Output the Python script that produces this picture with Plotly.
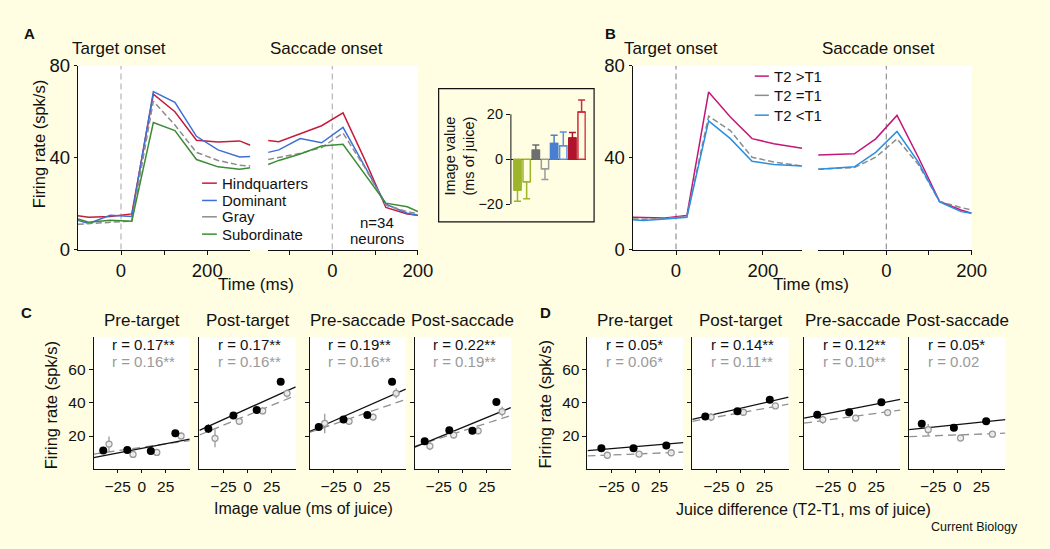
import plotly.graph_objects as go
import numpy as np

W, H = 1050, 549
def fx(p): return p / W
def fy(p): return 1 - p / H

BG = "#FFFDE2"
INK = "#111111"
FONT = "Liberation Sans, Arial, Helvetica, sans-serif"

# ---------------- Panel A data ----------------
tA_left = [-100, -75, -25, 25, 75, 125, 175, 225, 275, 300]
tA_right = [-150, -125, -75, -25, 25, 75, 125, 175, 200]
hind_L = [14.7, 14.1, 14.4, 15.5, 67.7, 60.0, 47.6, 46.8, 47.3, 45.4]
dom_L = [12.7, 11.3, 14.9, 14.4, 68.8, 64.1, 49.3, 43.4, 40.3, 40.5]
gray_L = [11.0, 11.3, 11.9, 12.4, 64.6, 54.2, 42.3, 38.8, 36.7, 36.4]
sub_L = [13.3, 11.9, 12.7, 12.3, 55.3, 51.8, 39.2, 36.0, 35.0, 35.6]
hind_R = [47.5, 46.9, 50.4, 53.9, 59.5, 39.5, 18.3, 15.5, 14.9]
dom_R = [42.3, 43.4, 48.3, 46.5, 53.2, 36.7, 19.7, 15.8, 14.8]
gray_R = [39.2, 40.2, 41.9, 44.4, 50.7, 36.0, 19.3, 16.5, 15.5]
sub_R = [37.0, 38.8, 41.6, 45.1, 45.8, 33.2, 20.2, 18.6, 16.5]
A_names = ["Hindquarters", "Dominant", "Gray", "Subordinate"]

# ---------------- Inset data ----------------
inset_vals = [-13.7, -10.0, 4.0, -4.3, 7.0, 6.0, 9.4, 21.0]
inset_err = [5.0, 7.6, 2.3, 4.8, 3.7, 6.1, 2.5, 5.4]
inset_filled = [True, False, True, False, True, False, True, False]

# ---------------- Panel B data ----------------
tB_left = [-100, -75, -25, 25, 75, 125, 175, 225, 290]
tB_right = [-160, -75, -25, 25, 75, 125, 175, 200]
mag_L = [14.0, 13.9, 13.7, 14.8, 68.6, 57.7, 48.3, 46.1, 44.1]
grayB_L = [13.3, 13.2, 13.6, 14.4, 58.1, 51.8, 40.2, 38.1, 36.4]
blue_L = [13.0, 12.6, 13.3, 14.0, 56.0, 48.3, 38.4, 37.0, 36.4]
mag_R = [41.2, 41.7, 48.2, 58.4, 40.2, 20.9, 17.2, 15.8]
grayB_R = [35.0, 35.7, 40.2, 48.2, 37.0, 20.9, 18.3, 17.2]
blue_R = [35.0, 36.0, 42.3, 51.4, 38.1, 20.7, 16.5, 15.8]
B_names = ["T2 &gt;T1", "T2 =T1", "T2 &lt;T1"]

# ---------------- Panel C data ----------------
epochs = ["Pre-target", "Post-target", "Pre-saccade", "Post-saccade"]
C_black_x = [[-40, -15, 9.5, 35], [-40.7, -14.7, 9.5, 34.4], [-40.4, -14.7, 10, 35.7], [-39.6, -14, 10, 34.9]]
C_black_y = [[11.3, 11.7, 11.0, 21.7], [24.4, 32.3, 35.5, 52.4], [25.4, 29.8, 32.5, 52.4], [16.9, 23.4, 23.1, 40.3]]
C_black_err = [[0.8, 0.8, 0.8, 1.0], [2.5, 1.0, 1.0, 1.0], [2.0, 1.0, 1.0, 1.0], [1.5, 1.0, 1.0, 1.0]]
C_gray_x = [[-34, -9, 15.7, 41], [-33.8, -8.6, 15.7, 41], [-34.2, -8.9, 16, 40], [-34.2, -9.5, 16, 40.9]]
C_gray_y = [[15.2, 9.0, 10.2, 20.0], [18.6, 28.8, 35.0, 45.5], [27.5, 28.8, 31.3, 45.5], [14.0, 20.6, 23.1, 34.6]]
C_gray_err = [[4.5, 1.5, 1.2, 2.0], [5.3, 2.0, 2.0, 2.5], [5.8, 2.0, 2.0, 3.0], [2.5, 2.0, 2.0, 3.0]]
C_slope_black = [0.11, 0.26, 0.253, 0.236]
C_icpt_black = [12.6, 36.4, 35.35, 25.2]
C_slope_gray = [0.081, 0.236, 0.198, 0.185]
C_icpt_gray = [13.25, 32.4, 32.0, 23.05]
C_r_black = ["r = 0.17**", "r = 0.17**", "r = 0.19**", "r = 0.22**"]
C_r_gray = ["r = 0.16**", "r = 0.16**", "r = 0.16**", "r = 0.19**"]

# ---------------- Panel D data ----------------
D_black_x = [[-35.5, -2, 32.2], [-36.5, -3.1, 30.5], [-36.3, -3.1, 30.4], [-36.9, -3.5, 30]]
D_black_y = [[12.7, 12.7, 14.4], [31.7, 34.8, 41.7], [32.7, 34.2, 40.2], [27.3, 25.0, 28.8]]
D_black_err = [[0.8, 0.8, 0.8], [1.0, 1.0, 1.0], [1.0, 1.0, 1.0], [1.0, 1.0, 1.0]]
D_gray_x = [[-29.3, 3.8, 37.3], [-30.4, 3.1, 36.3], [-30.5, 3.7, 36.9], [-30.2, 3.4, 36.5]]
D_gray_y = [[8.5, 9.2, 10.0], [31.3, 34.2, 38.0], [29.8, 30.7, 34.0], [23.8, 18.8, 21.1]]
D_gray_err = [[1.5, 1.2, 1.5], [2.5, 2.0, 1.5], [2.5, 2.0, 1.5], [3.4, 1.2, 1.2]]
D_slope_black = [0.048, 0.132, 0.112, 0.06]
D_icpt_black = [13.7, 36.6, 36.3, 26.8]
D_slope_gray = [0.023, 0.102, 0.078, 0.021]
D_icpt_gray = [9.25, 33.9, 31.6, 20.65]
D_r_black = ["r = 0.05*", "r = 0.14**", "r = 0.12**", "r = 0.05*"]
D_r_gray = ["r = 0.06*", "r = 0.11**", "r = 0.10**", "r = 0.02"]

scatter_xrange = [-50, 50]
scatter_ticks = [-25, 0, 25]
scatter_ticktext = ["\u221225", "0", "25"]

# ---------------- styles ----------------
A_colors = ["#C41E3A", "#3D6FD6", "#8C8C8C", "#3C8C34"]
A_dash = ["solid", "solid", "6px,3px", "solid"]
B_colors = ["#C2187A", "#8C8C8C", "#2B8FE0"]
B_dash = ["solid", "6px,3px", "solid"]
inset_colors = ["#9DB52A", "#9DB52A", "#6E6E6E", "#9B9B9B", "#4A7ED0", "#5B8FE0", "#B0142C", "#D02A3C"]
GRAYPT = "#9A9A9A"

fig = go.Figure()
layout = dict(width=W, height=H, margin=dict(l=0, r=0, t=0, b=0), autosize=False,
              paper_bgcolor=BG, plot_bgcolor="rgba(0,0,0,0)", showlegend=False, hovermode=False,
              font=dict(family=FONT, color=INK, size=16))
shapes = []
annotations = []


def ax_common(**kw):
    d = dict(showgrid=False, zeroline=False, showline=True, linecolor=INK, linewidth=1,
             ticks="outside", tickcolor=INK, ticklen=4, tickwidth=1, fixedrange=True)
    d.update(kw)
    return d


def ann(text, x, y, size, color=INK, xanchor="center", yanchor="middle", angle=0, bold=False, xref="paper"):
    t = "<b>%s</b>" % text if bold else text
    annotations.append(dict(text=t, x=x, y=y, xref=xref, yref="paper", showarrow=False,
                            xanchor=xanchor, yanchor=yanchor, textangle=angle,
                            font=dict(size=size, color=color, family=FONT)))


def white_rect(x0, x1, y0, y1):
    shapes.append(dict(type="rect", xref="paper", yref="paper", x0=fx(x0), x1=fx(x1),
                       y0=fy(y1), y1=fy(y0), fillcolor="white", line=dict(width=0), layer="below"))


TICK_AB = 18.5
# ---------------- Panel A axes ----------------
yA = [fy(248), fy(57)]
layout["xaxis"] = ax_common(domain=[fx(79), fx(254)], range=[-100, 300], anchor="y",
                            tickvals=[0, 100, 200], ticktext=["0", "", "200"], tickfont=dict(size=TICK_AB))
layout["xaxis2"] = ax_common(domain=[fx(272), fx(424)], range=[-150, 200], anchor="y",
                             tickvals=[-100, 0, 100, 200], ticktext=["", "0", "", "200"], tickfont=dict(size=TICK_AB))
layout["yaxis"] = ax_common(domain=yA, range=[0, 80], anchor="x", tickvals=[0, 40, 80],
                            ticklen=3, tickfont=dict(size=TICK_AB))
white_rect(79, 424, 57, 248)

A_left = [hind_L, dom_L, gray_L, sub_L]
A_right = [hind_R, dom_R, gray_R, sub_R]
for i in range(4):
    ln = dict(color=A_colors[i], width=1.5, dash=A_dash[i])
    fig.add_trace(go.Scatter(x=tA_left, y=A_left[i], mode="lines", line=ln, xaxis="x", yaxis="y", name=A_names[i]))
    fig.add_trace(go.Scatter(x=tA_right, y=A_right[i], mode="lines", line=ln, xaxis="x2", yaxis="y", name=A_names[i]))

for xr in ["x", "x2"]:
    shapes.append(dict(type="line", xref=xr, yref="y", x0=0, x1=0, y0=0, y1=80,
                       line=dict(color="#BBBBBB", width=1.3, dash="6px,4px"), layer="below"))

# legend A
legA_y = [179, 197, 214, 232]
for i in range(4):
    shapes.append(dict(type="line", xref="paper", yref="paper", x0=fx(205), x1=fx(220),
                       y0=fy(legA_y[i]), y1=fy(legA_y[i]),
                       line=dict(color=A_colors[i], width=1.5, dash="solid")))
    ann(A_names[i], fx(223), fy(legA_y[i]), 15, xanchor="left")
ann("n=34", fx(382), fy(220), 15)
ann("neurons", fx(382), fy(237), 15)
ann("Target onset", fx(120.5), fy(39), 17)
ann("Saccade onset", fx(331), fy(39), 17)
ann("Time (ms)", fx(260), fy(284), 17)
ann("Firing rate (spk/s)", fx(39), fy(138), 16.5, angle=-90)
ann("A", fx(30), fy(23), 15, bold=True)

# ---------------- Inset ----------------
n_in = len(inset_vals)
layout["xaxis5"] = dict(domain=[fx(518.3), fx(594.3)], range=[-0.72, 7.46], anchor="y3", visible=False, fixedrange=True)
layout["yaxis3"] = dict(domain=[fy(215), fy(85)], range=[-26.1, 29.6], anchor="x5", showgrid=False,
                        showline=False, zeroline=True, zerolinecolor=INK, zerolinewidth=1.2,
                        ticks="outside", ticklen=4, tickcolor=INK, tickvals=[-20, 0, 20],
                        ticktext=["\u221220", "0", "20"], tickfont=dict(size=14.5), fixedrange=True)
for i in range(n_in):
    v = inset_vals[i]
    e = inset_err[i]
    col = inset_colors[i]
    up = [e] if v > 0 else [0]
    dn = [e] if v < 0 else [0]
    fig.add_trace(go.Bar(x=[i], y=[v], width=0.8, xaxis="x5", yaxis="y3",
                         marker=dict(color=col if inset_filled[i] else "rgba(0,0,0,0)",
                                     line=dict(color=col, width=1.5)),
                         error_y=dict(type="data", symmetric=False, array=up, arrayminus=dn,
                                      color=col, thickness=1.5, width=3.5)))
shapes.append(dict(type="line", xref="x5 domain", yref="y3", x0=0, x1=0, y0=-20, y1=20,
                   line=dict(color=INK, width=1)))
shapes.append(dict(type="rect", xref="paper", yref="paper", x0=fx(445), x1=fx(602.7),
                   y0=fy(219.3), y1=fy(80.7), line=dict(color=INK, width=1.2), fillcolor="rgba(0,0,0,0)"))
ann("Image value<br>(ms of juice)", fx(466), fy(151), 14.5, angle=-90)

# ---------------- Panel B ----------------
layout["xaxis3"] = ax_common(domain=[fx(641.7), fx(813.7)], range=[-100, 290], anchor="y2",
                             tickvals=[0, 100, 200], ticktext=["0", "", "200"], tickfont=dict(size=TICK_AB))
layout["xaxis4"] = ax_common(domain=[fx(830), fx(985.7)], range=[-160, 200], anchor="y2",
                             tickvals=[-100, 0, 100, 200], ticktext=["", "0", "", "200"], tickfont=dict(size=TICK_AB))
layout["yaxis2"] = ax_common(domain=yA, range=[0, 80], anchor="x3", tickvals=[0, 40, 80],
                             ticklen=3, tickfont=dict(size=TICK_AB))
white_rect(641.7, 985.7, 57, 248)
B_left = [mag_L, grayB_L, blue_L]
B_right = [mag_R, grayB_R, blue_R]
for i in range(3):
    ln = dict(color=B_colors[i], width=1.5, dash=B_dash[i])
    fig.add_trace(go.Scatter(x=tB_left, y=B_left[i], mode="lines", line=ln, xaxis="x3", yaxis="y2"))
    fig.add_trace(go.Scatter(x=tB_right, y=B_right[i], mode="lines", line=ln, xaxis="x4", yaxis="y2"))
for xr, yr in [("x3", "y2"), ("x4", "y2")]:
    shapes.append(dict(type="line", xref=xr, yref=yr, x0=0, x1=0, y0=0, y1=80,
                       line=dict(color="#999999", width=1.3, dash="6px,4px"), layer="below"))
legB_y = [67.7, 87.7, 108.3]
for i in range(3):
    shapes.append(dict(type="line", xref="paper", yref="paper", x0=fx(765.7), x1=fx(780),
                       y0=fy(legB_y[i]), y1=fy(legB_y[i]),
                       line=dict(color=B_colors[i], width=1.5)))
    ann(B_names[i], fx(783), fy(legB_y[i]), 15, xanchor="left")
ann("Target onset", fx(680.5), fy(39), 17)
ann("Saccade onset", fx(891.5), fy(39), 17)
ann("Time (ms)", fx(822.5), fy(284), 17)
ann("B", fx(619), fy(23), 15, bold=True)

# ---------------- Panels C and D ----------------
sc_top, sc_bot = 339.3, 476.7
C_dom = [(95, 192.5), (202.3, 300), (314, 411.7), (420.7, 518.3)]
D_dom = [(596, 693.3), (702.3, 800), (815.7, 913.3), (922.3, 1020)]

panels = [
    (C_dom, 6, 4, C_black_x, C_black_y, C_black_err, C_gray_x, C_gray_y, C_gray_err,
     C_slope_black, C_icpt_black, C_slope_gray, C_icpt_gray, C_r_black, C_r_gray),
    (D_dom, 10, 8, D_black_x, D_black_y, D_black_err, D_gray_x, D_gray_y, D_gray_err,
     D_slope_black, D_icpt_black, D_slope_gray, D_icpt_gray, D_r_black, D_r_gray),
]
for (doms, xi0, yi0, bx, by, be, gx, gy, ge, sb, ib, sg, ig, rb, rg) in panels:
    for k in range(4):
        xn, yn = xi0 + k, yi0 + k
        xa, ya = "x%d" % xn, "y%d" % yn
        d0, d1 = doms[k]
        layout["xaxis%d" % xn] = ax_common(domain=[fx(d0), fx(d1)], range=scatter_xrange, anchor=ya,
                                           tickvals=scatter_ticks, ticktext=scatter_ticktext,
                                           ticklen=3, tickfont=dict(size=15.5))
        layout["yaxis%d" % yn] = ax_common(domain=[fy(sc_bot), fy(sc_top)], range=[0, 79], anchor=xa,
                                           tickvals=[20, 40, 60], ticklen=4,
                                           showticklabels=(k == 0), tickfont=dict(size=15.5))
        white_rect(d0, d1, sc_top, sc_bot)
        xs = np.array(scatter_xrange, dtype=float)
        fig.add_trace(go.Scatter(x=xs, y=ig[k] + sg[k] * xs, mode="lines", xaxis=xa, yaxis=ya,
                                 line=dict(color="#8F8F8F", width=1.3, dash="8px,5px")))
        fig.add_trace(go.Scatter(x=xs, y=ib[k] + sb[k] * xs, mode="lines", xaxis=xa, yaxis=ya,
                                 line=dict(color=INK, width=1.3)))
        fig.add_trace(go.Scatter(x=gx[k], y=gy[k], mode="markers", xaxis=xa, yaxis=ya,
                                 marker=dict(symbol="circle", size=6, color="rgba(240,240,240,0.9)",
                                             line=dict(color=GRAYPT, width=1.3)),
                                 error_y=dict(type="data", array=ge[k], color=GRAYPT, thickness=1.3, width=0)))
        fig.add_trace(go.Scatter(x=bx[k], y=by[k], mode="markers", xaxis=xa, yaxis=ya,
                                 marker=dict(symbol="circle", size=8, color="black"),
                                 error_y=dict(type="data", array=be[k], color="black", thickness=1.3, width=0)))
        ann(epochs[k], fx((d0 + d1) / 2), fy(321.7), 17)
        ann(rb[k], fx(d0 + 17), fy(346.7), 15, xanchor="left")
        ann(rg[k], fx(d0 + 17), fy(364.3), 15, color="#9A9A9A", xanchor="left")

ann("Firing rate (spk/s)", fx(51.7), fy(410), 16.5, angle=-90)
ann("Image value (ms of juice)", fx(308), fy(517), 16)
ann("C", fx(26.5), fy(313), 15, bold=True)
ann("Firing rate (spk/s)", fx(553), fy(409), 16.5, angle=-90)
ann("Juice difference (T2-T1, ms of juice)", fx(815), fy(518), 16)
ann("D", fx(553.5), fy(313), 15, bold=True)
ann("Current Biology", fx(1035), fy(537), 12.5, xanchor="right")

layout["shapes"] = shapes
layout["annotations"] = annotations
layout["bargap"] = 0
fig.update_layout(**layout)
fig.write_html("out.html", config={"displayModeBar": False, "staticPlot": True},
               post_script="document.body.style.margin='0px';document.body.style.padding='0px';document.body.style.overflow='hidden';")
